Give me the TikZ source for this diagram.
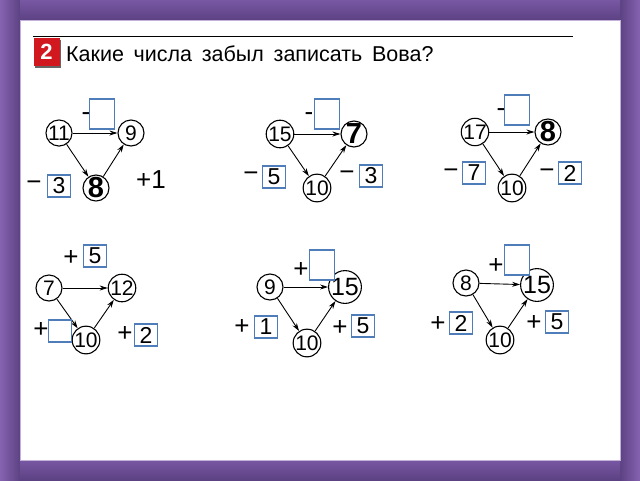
\documentclass[tikz,border=0pt]{standalone}
\usepackage{fontspec}
\setmainfont{Liberation Sans}
\usetikzlibrary{arrows.meta}
\definecolor{purp}{HTML}{7857A3}
\definecolor{purpdark}{HTML}{5C4283}
\definecolor{purplight}{HTML}{8663B0}
\definecolor{boxblue}{HTML}{4F7DBA}
\definecolor{redsq}{HTML}{D0181E}
\tikzset{
  num/.style={circle,draw,line width=1.1pt,minimum size=26pt,inner sep=0pt,font=\fontsize{21}{21}\selectfont},
  bnum/.style={num,font=\fontsize{29}{29}\selectfont\bfseries},
  ans/.style={draw=boxblue,line width=1.3pt,inner sep=0pt,minimum width=23pt,minimum height=22pt,font=\fontsize{23}{23}\selectfont},
  bigans/.style={draw=boxblue,line width=1.3pt,inner sep=0pt,minimum width=25pt,minimum height=30pt},
  sgn/.style={inner sep=0pt,font=\fontsize{26}{26}\selectfont},
  arr/.style={line width=0.9pt,-{Stealth[length=8pt,width=5pt]}},
}
\begin{document}
\begin{tikzpicture}[x=1pt,y=-1pt]
\useasboundingbox (0,0) rectangle (640,480);
% frame
\fill[purp] (0,0) rectangle (640,480);
\shade[left color=purplight,right color=purpdark] (0,0) rectangle (20,480);
\shade[left color=purpdark,right color=purplight] (620,0) rectangle (640,480);
\shade[top color=purp,bottom color=purpdark] (20,0) rectangle (620,20);
\shade[top color=purp,bottom color=purpdark] (20,460) rectangle (620,480);
\fill[white] (20,20) rectangle (620,460);
\draw[purplight!50,line width=0.6pt] (20,20) rectangle (620,460);
% title
\draw[line width=0.8pt] (33,36) -- (573,36);
\fill[black!60] (35,40) rectangle (61,68);
\node[fill=redsq,minimum width=26pt,minimum height=28pt,inner sep=0pt,text=white,font=\fontsize{22}{22}\selectfont\bfseries] (two) at (46.5,52) {2};
\node[anchor=west,inner sep=0pt,font=\fontsize{21.5}{21.5}\selectfont] (title) at (66,54) {Какие\hspace{0.45em}числа\hspace{0.45em}забыл\hspace{0.45em}записать\hspace{0.45em}Вова?};

% graph 1
\node[num] (a1) at (59,133) {11};
\node[num] (b1) at (131,133) {9};
\node[bnum] (c1) at (96,188) {8};
\draw[arr] (a1) -- (b1);
\draw[arr] (a1) -- (c1);
\draw[arr] (c1) -- (b1);
\node[bigans] (t1) at (102,114) {};
\node[sgn] (t1s) at (86,117) {-};
\node[sgn] (l1s) at (34,186) {−};
\node[ans] (l1) at (59,186) {3};
\node[sgn] (r1) at (151,180) {+1};

% graph 2
\node[num] (a2) at (280,134) {15};
\node[bnum] (b2) at (354,134) {7};
\node[num] (c2) at (317,188) {10};
\draw[arr] (a2) -- (b2);
\draw[arr] (a2) -- (c2);
\draw[arr] (c2) -- (b2);
\node[bigans] (t2) at (327,114) {};
\node[sgn] (t2s) at (309,117) {-};
\node[sgn] (l2s) at (251,177) {−};
\node[ans] (l2) at (274,177) {5};
\node[sgn] (r2s) at (347,176) {−};
\node[ans] (r2) at (371,176) {3};

% graph 3
\node[num] (a3) at (475,132) {17};
\node[bnum] (b3) at (548,132) {8};
\node[num] (c3) at (512,188) {10};
\draw[arr] (a3) -- (b3);
\draw[arr] (a3) -- (c3);
\draw[arr] (c3) -- (b3);
\node[bigans] (t3) at (517,110) {};
\node[sgn] (t3s) at (501,113) {-};
\node[sgn] (l3s) at (451,174) {−};
\node[ans] (l3) at (474,173) {7};
\node[sgn] (r3s) at (547,174) {−};
\node[ans] (r3) at (570,173) {2};

% graph 4
\node[num] (a4) at (49,288) {7};
\node[num] (b4) at (122,288) {12};
\node[num] (c4) at (86,340) {10};
\draw[arr] (a4) -- (b4);
\draw[arr] (a4) -- (c4);
\draw[arr] (c4) -- (b4);
\node[sgn] (t4s) at (71,258) {+};
\node[ans] (t4) at (95,256) {5};
\node[sgn] (l4s) at (41,330) {+};
\node[ans,fill=white] (l4) at (60,331) {};
\node[sgn] (r4s) at (125,334) {+};
\node[ans] (r4) at (146,335) {2};

% graph 5
\node[num] (a5) at (270,287) {9};
\node[num,font=\fontsize{25}{25}\selectfont] (b5) at (345,287) {15};
\node[num] (c5) at (307,343) {10};
\draw[arr] (a5) -- (b5);
\draw[arr] (a5) -- (c5);
\draw[arr] (c5) -- (b5);
\node[bigans,fill=white] (t5) at (322,265) {};
\node[sgn] (t5s) at (301,270) {+};
\node[sgn] (l5s) at (242,327) {+};
\node[ans] (l5) at (266,327) {1};
\node[sgn] (r5s) at (340,328) {+};
\node[ans] (r5) at (363,326) {5};

% graph 6
\node[num] (a6) at (466,283) {8};
\node[num,font=\fontsize{25}{25}\selectfont] (b6) at (537,285) {15};
\node[num] (c6) at (500,340) {10};
\draw[arr] (a6) -- (b6);
\draw[arr] (a6) -- (c6);
\draw[arr] (c6) -- (b6);
\node[bigans,fill=white] (t6) at (517,260) {};
\node[sgn] (t6s) at (496,266) {+};
\node[sgn] (l6s) at (438,324) {+};
\node[ans] (l6) at (461,323) {2};
\node[sgn] (r6s) at (534,323) {+};
\node[ans] (r6) at (557,322) {5};
\end{tikzpicture}
\end{document}
